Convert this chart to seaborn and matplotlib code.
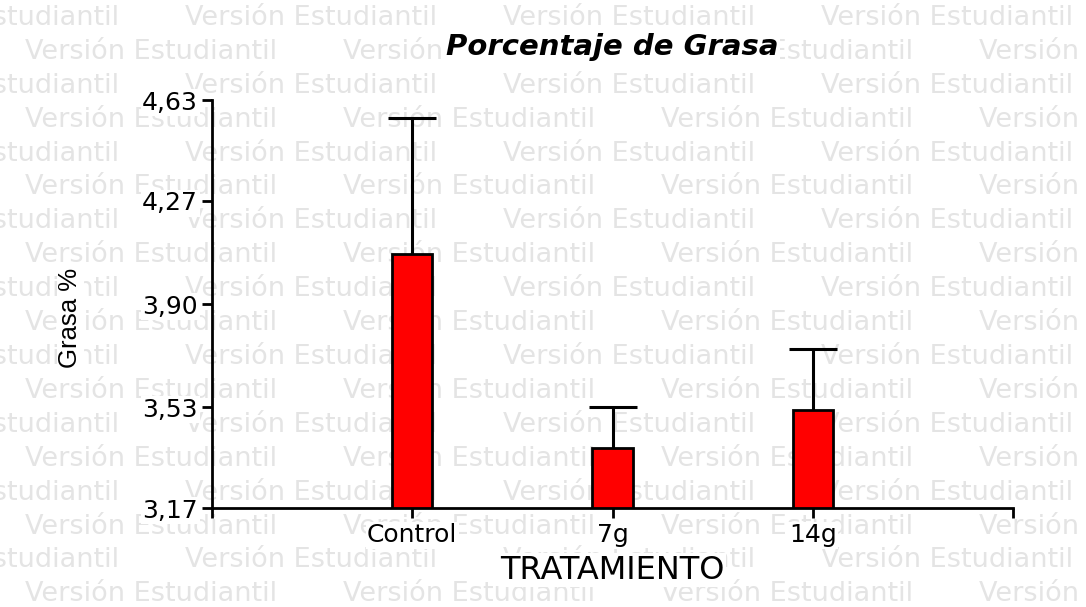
import pandas as pd
import matplotlib.pyplot as plt
import seaborn as sns

# Datos
tratamientos = ['Control', '7g', '14g']
grasa_media = [4.08, 3.385, 3.52]
grasa_error = [0.485, 0.146, 0.219]
y_ticks = [3.17, 3.53, 3.90, 4.27, 4.63]
y_tick_labels = ['3,17', '3,53', '3,90', '4,27', '4,63']

df = pd.DataFrame({'tratamiento': tratamientos, 'grasa': grasa_media})

sns.set_style('white')
plt.rcParams['font.family'] = ['DejaVu Sans']

W, H = 1086, 607
fig = plt.figure(figsize=(W / 100, H / 100), dpi=100)
fig.patch.set_facecolor('white')

# Marca de agua "Versión Estudiantil"
marca = 'Versión Estudiantil'
for fila in range(18):
    y = 1 - (18 + 33.9 * fila) / H
    x0 = 12 + ((fila + 1) % 2) * 160 + 139
    for k in range(-1, 4):
        fig.text((x0 + 318 * k) / W, y, marca, color='#e4e4e4', fontsize=19.5,
                 ha='center', va='center', zorder=-5)

ax = fig.add_axes([212 / W, 1 - 508 / H, (1013 - 212) / W, 408 / H])
ax.set_facecolor('none')

sns.barplot(data=df, x='tratamiento', y='grasa', color='#ff0000', saturation=1,
            edgecolor='black', linewidth=2, width=0.2, ax=ax)

eb = ax.errorbar(range(len(tratamientos)), grasa_media,
                 yerr=[[0] * len(grasa_error), grasa_error],
                 fmt='none', ecolor='black', elinewidth=2.2, capsize=17,
                 capthick=2.2, zorder=3)
eb[1][0].set_visible(False)  # sin tapa inferior

ax.set_xlim(-1, 3)
ax.set_ylim(3.17, 4.63)
ax.set_xticks([-1, 0, 1, 2, 3], ['', 'Control', '7g', '14g', ''])
ax.set_yticks(y_ticks, y_tick_labels)

sns.despine(ax=ax)
for lado in ['left', 'bottom']:
    ax.spines[lado].set_linewidth(2)
    ax.spines[lado].set_color('black')

ax.tick_params(bottom=True, left=True, direction='out', length=7, width=2,
               color='black', labelsize=18, labelcolor='black')
ax.tick_params(axis='y', pad=3)
ax.tick_params(axis='x', pad=4)

for t in ax.get_xticklabels() + ax.get_yticklabels():
    t.set_bbox(dict(facecolor='white', edgecolor='none', pad=1))

ax.set_xlabel('TRATAMIENTO', fontsize=23, color='black',
              bbox=dict(facecolor='white', edgecolor='none', pad=1))
ax.xaxis.set_label_coords(0.5, -0.152)
ax.xaxis.label.set_va('center')

ax.set_ylabel('Grasa %', fontsize=18.5, color='black',
              family=['Liberation Sans', 'DejaVu Sans'],
              bbox=dict(facecolor='white', edgecolor='none', pad=1))
ax.yaxis.set_label_coords(-0.177, 0.466)
ax.yaxis.label.set_va('center')
ax.yaxis.label.set_ha('center')

fig.text(612.5 / W, 1 - 47 / H, 'Porcentaje de Grasa', fontsize=21,
         color='black', fontweight='bold', fontstyle='italic',
         ha='center', va='center',
         bbox=dict(facecolor='white', edgecolor='none', pad=1))

fig.savefig('out.png', dpi=100)
